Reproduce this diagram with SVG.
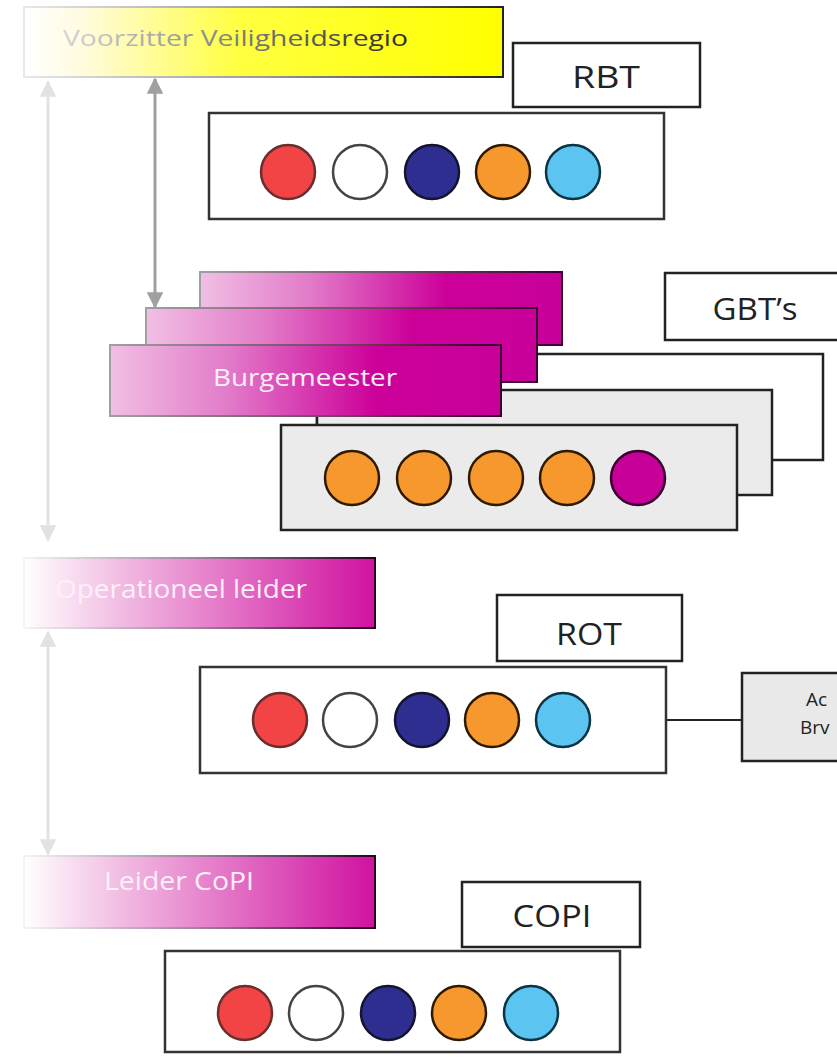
<svg xmlns="http://www.w3.org/2000/svg" width="837" height="1057" viewBox="0 0 837 1057">
<defs>
<linearGradient id="gYellow" x1="0" y1="0" x2="1" y2="0">
<stop offset="0" stop-color="#ffffff"/>
<stop offset="0.12" stop-color="#fffbe0"/>
<stop offset="0.45" stop-color="#ffff40"/>
<stop offset="1" stop-color="#ffff00"/>
</linearGradient>
<linearGradient id="gYellowStroke" x1="0" y1="0" x2="1" y2="0">
<stop offset="0" stop-color="#e8e8e8"/>
<stop offset="0.5" stop-color="#999999"/>
<stop offset="1" stop-color="#222222"/>
</linearGradient>
<linearGradient id="gYText" gradientUnits="userSpaceOnUse" x1="63" y1="0" x2="408" y2="0">
<stop offset="0" stop-color="#d4d4d4"/>
<stop offset="0.35" stop-color="#9a9a9a"/>
<stop offset="0.7" stop-color="#5e5e5e"/>
<stop offset="1" stop-color="#2a2a2a"/>
</linearGradient>
<linearGradient id="gMag" x1="0" y1="0" x2="1" y2="0">
<stop offset="0" stop-color="#f1bfe4"/>
<stop offset="0.3" stop-color="#e27cc9"/>
<stop offset="0.68" stop-color="#cc0099"/>
<stop offset="1" stop-color="#c8009a"/>
</linearGradient>
<linearGradient id="gMagStroke" x1="0" y1="0" x2="1" y2="0">
<stop offset="0" stop-color="#a0a0a0"/>
<stop offset="0.6" stop-color="#704060"/>
<stop offset="1" stop-color="#3a0030"/>
</linearGradient>
<linearGradient id="gMagFade" x1="0" y1="0" x2="1" y2="0">
<stop offset="0" stop-color="#ffffff"/>
<stop offset="0.1" stop-color="#fae6f4"/>
<stop offset="0.35" stop-color="#eeaadb"/>
<stop offset="1" stop-color="#d012a0"/>
</linearGradient>
<linearGradient id="gFadeStroke" x1="0" y1="0" x2="1" y2="0">
<stop offset="0" stop-color="#f4f4f4"/>
<stop offset="0.5" stop-color="#a080a0"/>
<stop offset="1" stop-color="#2a0020"/>
</linearGradient>
<marker id="ahLight" viewBox="0 0 10 10" refX="9" refY="5" markerWidth="5.5" markerHeight="5.5" orient="auto-start-reverse">
<path d="M0,0 L10,5 L0,10 z" fill="#e2e2e2"/>
</marker>
<marker id="ahDark" viewBox="0 0 10 10" refX="9" refY="5" markerWidth="5.5" markerHeight="5.5" orient="auto-start-reverse">
<path d="M0,0 L10,5 L0,10 z" fill="#a0a0a0"/>
</marker>
<style>
.lbl{fill:#ffffff;stroke:#222222;stroke-width:2.5}
.team{fill:#ffffff;stroke:#333333;stroke-width:2.5}
.grey{fill:#ebebeb;stroke:#222222;stroke-width:2.5}
.mag{fill:url(#gMag);stroke:url(#gMagStroke);stroke-width:2}
.fade{fill:url(#gMagFade);stroke:url(#gFadeStroke);stroke-width:2}
.t{font-family:"Open Sans","Noto Sans","DejaVu Sans",sans-serif}
.tl{font-family:"Open Sans","Noto Sans","DejaVu Sans",sans-serif;font-size:31px;fill:#222222;text-anchor:middle}
.tw{font-family:"Open Sans","Noto Sans","DejaVu Sans",sans-serif;fill:#fdf0fa}
.cr{fill:#f24444;stroke:#6a2e2e;stroke-width:2.5}
.cw{fill:#ffffff;stroke:#444444;stroke-width:2.5}
.cn{fill:#2e2e90;stroke:#141430;stroke-width:2.5}
.co{fill:#f7982f;stroke:#2e1a00;stroke-width:2.5}
.cb{fill:#5cc4f0;stroke:#0c3444;stroke-width:2.5}
.cm{fill:#c8009a;stroke:#3a0030;stroke-width:2.5}
.conn{fill:none;stroke:#222222;stroke-width:2}
.arL{fill:none;stroke:#e2e2e2;stroke-width:3;marker-start:url(#ahLight);marker-end:url(#ahLight)}
.arD{fill:none;stroke:#a0a0a0;stroke-width:3;marker-start:url(#ahDark);marker-end:url(#ahDark)}
</style>
</defs>
<rect x="0" y="0" width="837" height="1057" fill="#ffffff"/>

<g id="connectors">
<line class="arL" x1="48" y1="82" x2="48" y2="540"/>
<line class="arD" x1="155" y1="79" x2="155" y2="307"/>
<line class="arL" x1="48" y1="632" x2="48" y2="854"/>
<line class="conn" x1="666" y1="720" x2="742" y2="720"/>
</g>

<g id="voorzitter">
<rect x="24" y="7" width="479" height="70" fill="url(#gYellow)" stroke="url(#gYellowStroke)" stroke-width="2"/>
<text class="t" x="63" y="46" font-size="22" fill="url(#gYText)" textLength="345" lengthAdjust="spacingAndGlyphs">Voorzitter Veiligheidsregio</text>
</g>

<g id="rbt-label">
<rect class="lbl" x="513" y="43" width="187" height="64"/>
<text class="tl" x="606" y="88" textLength="68" lengthAdjust="spacingAndGlyphs">RBT</text>
</g>

<g id="rbt-team">
<rect class="team" x="209" y="113" width="455" height="106"/>
<circle class="cr" cx="288" cy="172" r="27"/>
<circle class="cw" cx="360" cy="172" r="27"/>
<circle class="cn" cx="432" cy="172" r="27"/>
<circle class="co" cx="503" cy="172" r="27"/>
<circle class="cb" cx="573" cy="172" r="27"/>
</g>

<g id="gbt-label">
<rect class="lbl" x="665" y="273" width="185" height="67"/>
<text class="tl" x="755" y="320" textLength="85" lengthAdjust="spacingAndGlyphs">GBT’s</text>
</g>

<g id="gbt-back">
<rect class="lbl" x="317" y="354" width="506" height="106"/>
</g>
<g id="gbt-middle">
<rect class="grey" x="317" y="390" width="455" height="105"/>
</g>
<g id="gbt-front">
<rect class="grey" x="281" y="425" width="456" height="105"/>
<circle class="co" cx="352" cy="478" r="27"/>
<circle class="co" cx="424" cy="478" r="27"/>
<circle class="co" cx="496" cy="478" r="27"/>
<circle class="co" cx="567" cy="478" r="27"/>
<circle class="cm" cx="638" cy="478" r="27"/>
</g>

<g id="burgemeester-back">
<rect class="mag" x="200" y="272" width="362" height="73"/>
</g>
<g id="burgemeester-middle">
<rect class="mag" x="146" y="308" width="391" height="74"/>
</g>
<g id="burgemeester">
<rect class="mag" x="110" y="345" width="391" height="71"/>
<text class="tw" x="213" y="386" font-size="24" textLength="184" lengthAdjust="spacingAndGlyphs">Burgemeester</text>
</g>

<g id="operationeel-leider">
<rect class="fade" x="24" y="558" width="351" height="70"/>
<text class="tw" x="55" y="598" font-size="26" textLength="252" lengthAdjust="spacingAndGlyphs">Operationeel leider</text>
</g>

<g id="rot-label">
<rect class="lbl" x="497" y="595" width="185" height="66"/>
<text class="tl" x="589" y="645" textLength="66" lengthAdjust="spacingAndGlyphs">ROT</text>
</g>

<g id="rot-team">
<rect class="team" x="200" y="667" width="466" height="106"/>
<circle class="cr" cx="280" cy="720" r="27"/>
<circle class="cw" cx="350" cy="720" r="27"/>
<circle class="cn" cx="422" cy="720" r="27"/>
<circle class="co" cx="492" cy="720" r="27"/>
<circle class="cb" cx="563" cy="720" r="27"/>
</g>

<g id="ac-brw">
<rect x="742" y="673" width="110" height="88" fill="#e9e9e9" stroke="#222222" stroke-width="2.5"/>
<text class="t" x="806" y="706" font-size="19" fill="#222222">Ac</text>
<text class="t" x="800" y="734" font-size="19" fill="#222222">Brv</text>
</g>

<g id="leider-copi">
<rect class="fade" x="24" y="856" width="351" height="72"/>
<text class="tw" x="104" y="890" font-size="26" textLength="150" lengthAdjust="spacingAndGlyphs">Leider CoPI</text>
</g>

<g id="copi-label">
<rect class="lbl" x="462" y="882" width="178" height="65"/>
<text class="tl" x="552" y="927" textLength="79" lengthAdjust="spacingAndGlyphs">COPI</text>
</g>

<g id="copi-team">
<rect class="team" x="165" y="951" width="455" height="101"/>
<circle class="cr" cx="245" cy="1013" r="27"/>
<circle class="cw" cx="316" cy="1013" r="27"/>
<circle class="cn" cx="388" cy="1013" r="27"/>
<circle class="co" cx="459" cy="1013" r="27"/>
<circle class="cb" cx="531" cy="1013" r="27"/>
</g>
</svg>
